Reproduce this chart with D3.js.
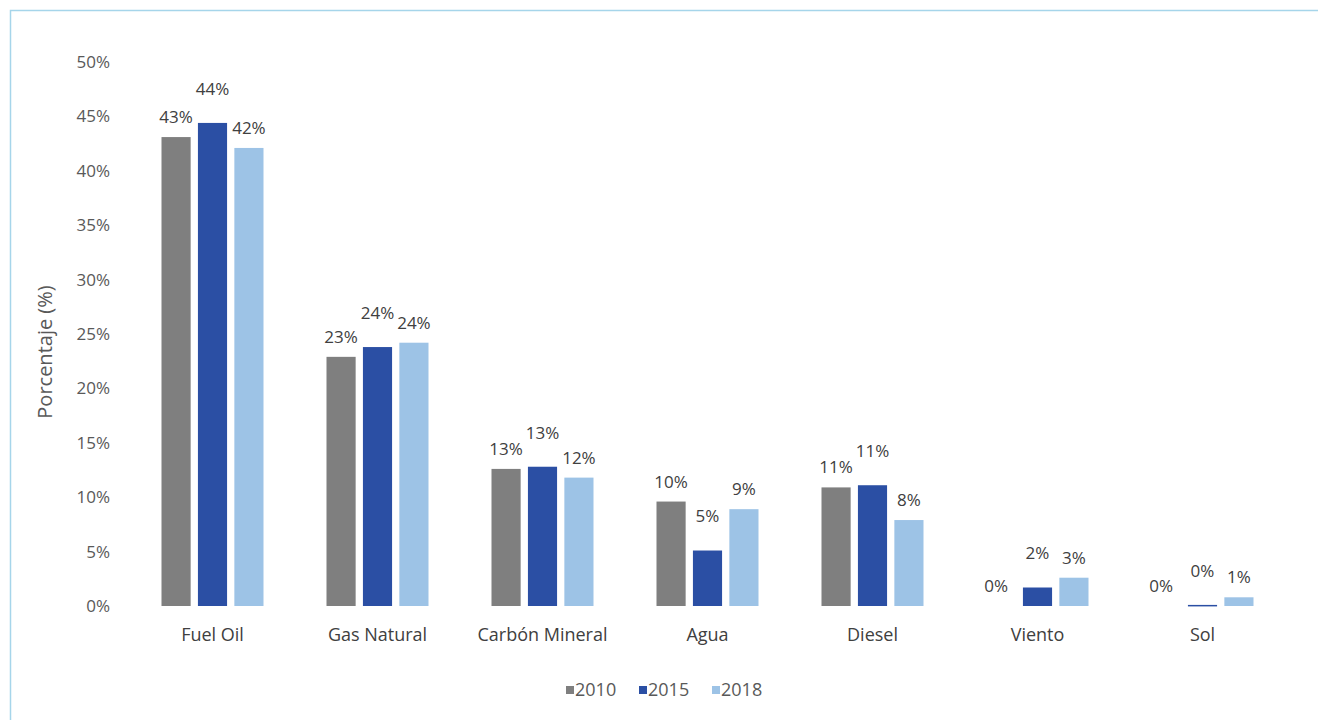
<!DOCTYPE html>
<html>
<head>
<meta charset="utf-8">
<script src="https://cdn.jsdelivr.net/npm/d3@7"></script>
<style>
  html, body { margin: 0; padding: 0; background: #fff; }
  svg { display: block; }
  text { font-family: "Open Sans", "Noto Sans", sans-serif; }
</style>
</head>
<body>
<svg id="chart" width="1319" height="720"></svg>
<script>
const categories = ["Fuel Oil", "Gas Natural", "Carbón Mineral", "Agua", "Diesel", "Viento", "Sol"];
const seriesNames = ["2010", "2015", "2018"];
const values2010 = [43.1, 22.9, 12.6, 9.6, 10.9, 0.0, 0.0];
const values2015 = [44.4, 23.8, 12.8, 5.1, 11.1, 1.7, 0.1];
const values2018 = [42.1, 24.2, 11.8, 8.9, 7.9, 2.6, 0.8];
const yTicks = [0, 5, 10, 15, 20, 25, 30, 35, 40, 45, 50];
const colors = ["#7f7f7f", "#2b4fa4", "#9dc3e6"];

const seriesValues = [values2010, values2015, values2018];
const svg = d3.select("#chart");

// frame
svg.append("path")
  .attr("d", "M10.5,720 L10.5,10.5 L1318,10.5")
  .attr("fill", "none").attr("stroke", "#a6d5ea").attr("stroke-width", 1.5);

const x0 = d3.scaleBand().domain(categories).range([130, 1285]).padding(0);
const x1 = d3.scaleBand().domain(seriesNames).range([0, 102]).paddingInner(0.2).paddingOuter(0);
const y = d3.scaleLinear().domain([0, 50]).range([606, 62]);

// y axis
const yAxis = d3.axisLeft(y).tickValues(yTicks).tickFormat(d => d + "%").tickSize(0).tickPadding(0);
const gy = svg.append("g").attr("transform", "translate(110,0)").call(yAxis);
gy.select(".domain").remove();
gy.selectAll("text").attr("fill", "#595959").style("font-size", "17px")
  .style("font-family", "'Open Sans', sans-serif");

// x axis labels
const xAxis = d3.axisBottom(x0).tickSize(0).tickPadding(0);
const gx = svg.append("g").attr("transform", "translate(0,628)").call(xAxis);
gx.select(".domain").remove();
gx.selectAll("text").attr("fill", "#404040").style("font-size", "18px")
  .style("font-family", "'Open Sans', sans-serif");

// bars
const groups = svg.append("g").selectAll("g").data(categories).join("g")
  .attr("transform", d => `translate(${x0(d) + x0.bandwidth() / 2 - 51},0)`);

seriesNames.forEach((s, si) => {
  groups.append("rect")
    .attr("x", x1(s))
    .attr("width", x1.bandwidth())
    .attr("y", (d, ci) => y(seriesValues[si][ci]))
    .attr("height", (d, ci) => Math.max(y(0) - y(seriesValues[si][ci]), si === 1 && seriesValues[si][ci] > 0 ? 1.5 : 0))
    .attr("fill", colors[si]);
  const lift = si === 1 ? 34 : 20;
  groups.append("text")
    .attr("x", (d, ci) => x1(s) + x1.bandwidth() / 2 - (seriesValues[si][ci] === 0 ? 5 : 0))
    .attr("y", (d, ci) => y(seriesValues[si][ci]) - lift)
    .attr("dy", "0.35em")
    .attr("text-anchor", "middle")
    .attr("fill", "#404040")
    .style("font-size", "17px")
    .text((d, ci) => Math.round(seriesValues[si][ci]) + "%");
});

// y axis title
svg.append("text")
  .attr("transform", "translate(45,352) rotate(-90)")
  .attr("text-anchor", "middle")
  .attr("dy", "0.35em")
  .attr("fill", "#595959")
  .style("font-size", "20px")
  .text("Porcentaje (%)");

// legend
const legendX = [566, 639, 712];
const lg = svg.append("g").selectAll("g").data(seriesNames).join("g")
  .attr("transform", (d, i) => `translate(${legendX[i]},690)`);
lg.append("rect").attr("x", 0).attr("y", -4).attr("width", 8).attr("height", 8)
  .attr("fill", (d, i) => colors[i]);
lg.append("text").attr("x", 9).attr("dy", "0.35em").attr("fill", "#595959")
  .style("font-size", "18px").text(d => d);
</script>
</body>
</html>
